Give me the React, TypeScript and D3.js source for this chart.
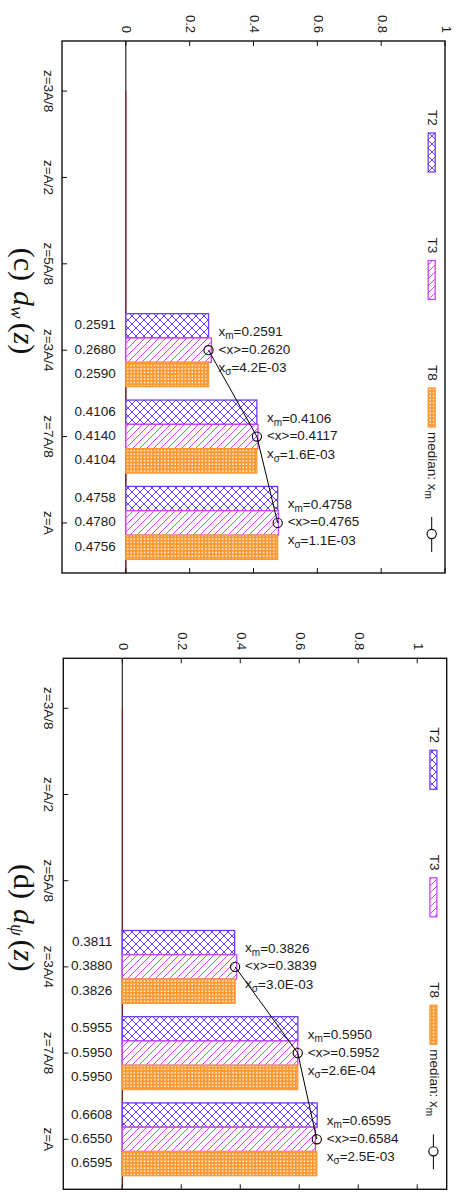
import * as d3 from "d3";

const categories = ["z=3A/8", "z=A/2", "z=5A/8", "z=3A/4", "z=7A/8", "z=A"];
const seriesNames = ["T2", "T3", "T8"];
const statCategories = ["z=3A/4", "z=7A/8", "z=A"];
const tickValues = [0, 0.2, 0.4, 0.6, 0.8, 1];
const tickLabels = ["0", "0.2", "0.4", "0.6", "0.8", "1"];

// panel (c) d_w(z)
const dwT2 = [0, 0, 0, 0.2591, 0.4106, 0.4758];
const dwT3 = [0, 0, 0, 0.268, 0.414, 0.478];
const dwT8 = [0, 0, 0, 0.259, 0.4104, 0.4756];
const dwMedian = [0.2591, 0.4106, 0.4758];
const dwMean = [0.262, 0.4117, 0.4765];
const dwSigma = ["4.2E-03", "1.6E-03", "1.1E-03"];

// panel (d) d_psi(z)
const dpT2 = [0, 0, 0, 0.3811, 0.5955, 0.6608];
const dpT3 = [0, 0, 0, 0.388, 0.595, 0.655];
const dpT8 = [0, 0, 0, 0.3826, 0.595, 0.6595];
const dpMedian = [0.3826, 0.595, 0.6595];
const dpMean = [0.3839, 0.5952, 0.6584];
const dpSigma = ["3.0E-03", "2.6E-04", "2.5E-03"];

const colors: Record<string, string> = { T2: "#6a3cff", T3: "#cc44ff", T8: "#ff9933" };
const fills: Record<string, string> = { T2: "url(#pT2)", T3: "url(#pT3)", T8: "url(#pT8)" };
const sans = "'Liberation Sans', Arial, sans-serif";
const serif = "'Liberation Serif', 'Times New Roman', serif";

interface PanelProps {
  top: number; left: number; right: number; bottom: number;
  domain: [number, number];
  values: number[][];
  median: number[]; mean: number[]; sigma: string[];
  label: string; sym: string;
}

function Panel({ top, left, right, bottom, domain, values, median, mean, sigma, label, sym }: PanelProps) {
  const x = d3.scaleLinear().domain(domain).range([left, right]);
  const y = d3.scalePoint<string>().domain(categories).range([top, bottom]).padding(0.58);
  const group = y.step() * 0.845;
  const inner = d3.scaleBand<string>().domain(seriesNames).range([-group / 2, group / 2]);
  const bw = inner.bandwidth();
  const x0 = x(0);
  const medLine = d3.line<number>().x(d => x(d)).y((d, i) => y(statCategories[i])!);
  const legX = right - 13.3;

  return (
    <g>
      {/* title */}
      <text transform={`translate(21,${(top + bottom) / 2 - 6}) rotate(90)`} fontFamily={serif} fontSize={30}
        textAnchor="middle" dominantBaseline="middle" fill="#111">
        <tspan>({label})</tspan>
        <tspan dx={10} fontStyle="italic">d</tspan>
        <tspan dy={6} fontSize={19} fontStyle="italic">{sym}</tspan>
        <tspan dy={-6} dx={4}>(</tspan>
        <tspan fontStyle="italic">z</tspan>
        <tspan>)</tspan>
      </text>

      {/* zero line */}
      <line x1={x0} x2={x0} y1={top} y2={bottom} stroke="#000" strokeWidth={1} />
      <line x1={x0} x2={x0} y1={y(categories[0])!} y2={bottom} stroke="#8b1a1a" strokeWidth={1} />

      {/* bars */}
      {seriesNames.map((s, si) =>
        categories.map((c, ci) => {
          const v = values[si][ci];
          if (!v) return null;
          const yy = y(c)! + inner(s)!;
          return (
            <g key={s + c}>
              <rect x={x0} y={yy} width={x(v) - x0} height={bw} fill={fills[s]} stroke={colors[s]} strokeWidth={1.3} />
              <text x={x0 - 10} y={yy + bw / 2} textAnchor="end" dominantBaseline="middle" fontFamily={sans}
                fontSize={13.5} fill="#1a1a1a">{v.toFixed(4)}</text>
            </g>
          );
        })
      )}

      {/* median line + circles */}
      <path d={medLine(median)!} fill="none" stroke="#000" strokeWidth={1} />
      {median.map((m, i) => (
        <circle key={i} cx={x(m)} cy={y(statCategories[i])!} r={4.6} fill="none" stroke="#000" strokeWidth={1.1} />
      ))}

      {/* stats annotations */}
      {median.map((m, i) => {
        const cy = y(statCategories[i])!;
        const tx = x(m) + 10;
        return (
          <g key={"a" + i} fontFamily={sans} fontSize={13.5} fill="#1a1a1a">
            <text x={tx} y={cy - 18} dominantBaseline="middle">
              x<tspan fontSize={10} dy={4}>m</tspan><tspan dy={-4}>={m.toFixed(4)}</tspan>
            </text>
            <text x={tx} y={cy} dominantBaseline="middle">{"<x>=" + mean[i].toFixed(4)}</text>
            <text x={tx} y={cy + 18} dominantBaseline="middle">
              x<tspan fontSize={10} dy={4}>σ</tspan><tspan dy={-4}>={sigma[i]}</tspan>
            </text>
          </g>
        );
      })}

      {/* frame */}
      <rect x={left} y={top} width={right - left} height={bottom - top} fill="none" stroke="#111" strokeWidth={1.4} />

      {/* value ticks top/bottom */}
      {tickValues.map((t, i) => (
        <g key={"t" + i}>
          <line x1={x(t)} x2={x(t)} y1={top} y2={top + 5} stroke="#111" />
          <line x1={x(t)} x2={x(t)} y1={bottom} y2={bottom - 5} stroke="#111" />
          <text transform={`translate(${x(t)},${top - 8}) rotate(90)`} textAnchor="end" dominantBaseline="middle"
            fontFamily={sans} fontSize={13} fill="#1a1a1a">{tickLabels[i]}</text>
        </g>
      ))}

      {/* category ticks + labels */}
      {categories.map(c => (
        <g key={c}>
          <line x1={left} x2={left + 5} y1={y(c)!} y2={y(c)!} stroke="#111" />
          <text transform={`translate(48,${y(c)!}) rotate(90)`} textAnchor="middle" dominantBaseline="middle"
            fontFamily={sans} fontSize={13.5} fill="#1a1a1a">{c}</text>
        </g>
      ))}

      {/* legend */}
      {seriesNames.map((s, i) => {
        const ty = top + 69 + i * 127.5;
        return (
          <g key={"l" + s}>
            <text transform={`translate(${legX},${ty}) rotate(90)`} dominantBaseline="middle" fontFamily={sans}
              fontSize={13.5} fill="#1a1a1a">{s}</text>
            <rect x={legX - 3.5} y={ty + 23} width={7} height={39} fill={fills[s]} stroke={colors[s]} strokeWidth={1.3} />
          </g>
        );
      })}
      <text transform={`translate(${legX},${top + 391}) rotate(90)`} dominantBaseline="middle" fontFamily={sans}
        fontSize={13.5} fill="#1a1a1a">
        median: x<tspan fontSize={10} dy={4}>m</tspan>
      </text>
      <line x1={legX} x2={legX} y1={top + 476} y2={top + 511} stroke="#000" />
      <circle cx={legX} cy={top + 493} r={4.6} fill="#fff" stroke="#000" strokeWidth={1.1} />
    </g>
  );
}

export default function App() {
  return (
    <svg width={462} height={1195} style={{ position: "absolute", left: 0, top: 0, background: "#fff" }}>
      <defs>
        <pattern id="pT2" patternUnits="userSpaceOnUse" width={8} height={8}>
          <rect width={8} height={8} fill="#fff" />
          <path d="M0,0L8,8M8,0L0,8" stroke={colors.T2} strokeWidth={1} />
        </pattern>
        <pattern id="pT3" patternUnits="userSpaceOnUse" width={7} height={7}>
          <rect width={7} height={7} fill="#fff" />
          <path d="M0,7L7,0M-1,1L1,-1M6,8L8,6" stroke={colors.T3} strokeWidth={1} />
        </pattern>
        <pattern id="pT8" patternUnits="userSpaceOnUse" width={3.4} height={3.4}>
          <rect width={3.4} height={3.4} fill={colors.T8} />
          <rect x={1.1} y={1.1} width={1.4} height={1.4} fill="#fff" />
        </pattern>
      </defs>
      <rect width={462} height={1195} fill="#fff" />
      <Panel top={41} left={62} right={445} bottom={573} domain={[-0.2, 1]}
        values={[dwT2, dwT3, dwT8]} median={dwMedian} mean={dwMean} sigma={dwSigma} label="c" sym="w" />
      <Panel top={658.3} left={63.3} right={446.7} bottom={1189.3} domain={[-0.2, 1.1]}
        values={[dpT2, dpT3, dpT8]} median={dpMedian} mean={dpMean} sigma={dpSigma} label="d" sym="ψ" />
    </svg>
  );
}
